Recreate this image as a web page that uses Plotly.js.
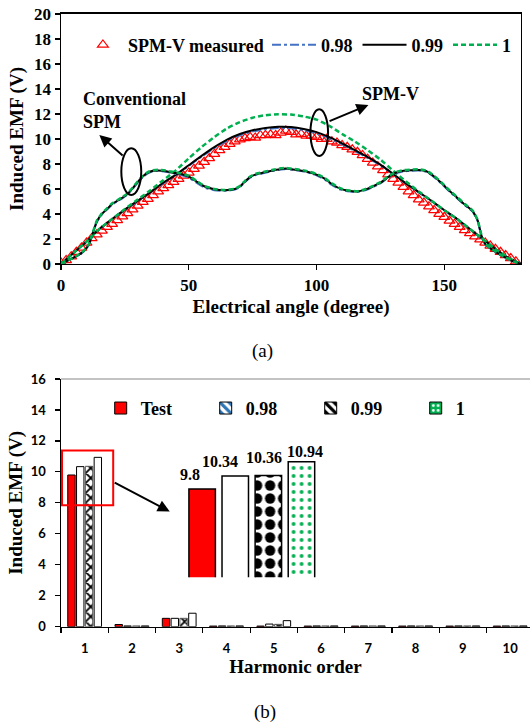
<!DOCTYPE html>
<html><head><meta charset="utf-8">
<script src="https://cdn.plot.ly/plotly-3.0.1.min.js"></script>
<style>html,body{margin:0;padding:0;background:#fff;}#chart{width:530px;height:724px;}</style>
</head><body><div id="chart"></div>
<script>
// ---------- (a) Induced EMF waveforms ----------
const angleMeasured = [0,2,4,6,8,10,12,14,16,18,20,22,24,26,28,30,32,34,36,38,40,42,44,46,48,50,52,54,56,58,60,62,64,66,68,70,72,74,76,78,80,82,84,86,88,90,92,94,96,98,100,102,104,106,108,110,112,114,116,118,120,122,124,126,128,130,132,134,136,138,140,142,144,146,148,150,152,154,156,158,160,162,164,166,168,170,172,174,176,178];
const emfMeasured = [0.1,0.3,0.6,0.95,1.3,1.7,2.05,2.35,2.65,2.95,3.2,3.5,3.8,4.05,4.35,4.65,4.95,5.2,5.5,5.8,6.05,6.3,6.55,6.8,7.05,7.3,7.6,7.85,8.15,8.45,8.8,9.1,9.35,9.6,9.8,9.95,10.05,10.15,10.1,10.3,10.3,10.35,10.3,10.5,10.65,10.55,10.35,10.4,10.25,10.25,10.15,10.0,10.0,9.8,9.7,9.5,9.35,9.15,8.95,8.7,8.4,8.1,7.8,7.5,7.15,6.8,6.5,6.15,5.8,5.5,5.15,4.9,4.6,4.3,4.0,3.75,3.45,3.2,2.95,2.7,2.45,2.2,1.95,1.7,1.45,1.2,0.95,0.7,0.45,0.2];

const angleSim = [0,5,10,15,20,25,30,35,40,45,50,55,60,65,70,75,80,85,90,95,100,105,110,115,120,125,130,135,140,145,150,155,160,165,170,175,180];
const spmv098 = [0,0.9,1.8,2.78,3.58,4.32,5.02,5.72,6.45,7.1,7.85,8.58,9.27,9.86,10.3,10.6,10.78,10.87,10.85,10.7,10.45,10.06,9.57,9.03,8.49,7.9,7.16,6.42,5.72,5.02,4.28,3.58,2.78,1.98,1.19,0.5,0];
const spmv099 = [0,0.9,1.8,2.8,3.6,4.35,5.05,5.75,6.5,7.15,7.9,8.65,9.35,9.95,10.4,10.7,10.88,10.97,10.95,10.8,10.55,10.15,9.65,9.1,8.55,7.95,7.2,6.45,5.75,5.05,4.3,3.6,2.8,2.0,1.2,0.5,0];
const spmv1   = [0,0.9,1.8,2.8,3.6,4.4,5.15,5.9,6.7,7.5,8.45,9.35,10.15,10.85,11.35,11.7,11.9,11.97,11.95,11.8,11.55,11.05,10.4,9.8,9.1,8.35,7.45,6.6,5.8,5.05,4.3,3.6,2.8,2.0,1.2,0.5,0];

const angleConv = [0,3,6,9,11,12.5,14,16,18,20,22,24,26,28,30,32,34,36,38,41,44,47,50,53,56,60,64,68,70,72,74,76,78,80,83,86,88,90,93,96,100,103,106,109,112,116,119,122,125,128,131,134,137,140,143,146,149,152,155,158,161,163,164.5,166,168,171,174,177,180];
const conv098 = [0,0.3,0.6,1.02,1.55,2.45,3.35,3.95,4.35,4.75,5.0,5.25,5.55,6.0,6.5,6.95,7.25,7.42,7.45,7.38,7.25,7.12,6.9,6.5,6.12,5.9,5.85,5.95,6.15,6.55,6.9,7.1,7.2,7.3,7.45,7.55,7.6,7.55,7.47,7.35,7.1,6.78,6.32,5.98,5.82,5.75,5.9,6.15,6.45,6.9,7.25,7.4,7.46,7.48,7.38,6.95,6.4,5.8,5.25,4.7,4.2,3.45,2.25,1.58,1.22,0.83,0.48,0.2,0];
const conv099 = [0,0.3,0.62,1.05,1.6,2.5,3.4,4.0,4.4,4.8,5.05,5.3,5.6,6.05,6.55,7.0,7.3,7.45,7.48,7.42,7.3,7.2,7.0,6.6,6.22,5.98,5.9,6.0,6.2,6.6,6.95,7.15,7.25,7.35,7.48,7.6,7.63,7.58,7.5,7.4,7.15,6.85,6.4,6.05,5.88,5.8,5.95,6.2,6.5,6.95,7.3,7.45,7.5,7.52,7.42,7.0,6.45,5.85,5.3,4.75,4.25,3.5,2.3,1.6,1.25,0.85,0.5,0.2,0];
const conv1   = [0,0.3,0.63,1.07,1.63,2.55,3.45,4.05,4.45,4.85,5.1,5.35,5.65,6.1,6.6,7.05,7.35,7.5,7.53,7.47,7.35,7.25,7.05,6.65,6.25,6.0,5.92,6.02,6.23,6.65,7.0,7.2,7.3,7.4,7.53,7.65,7.68,7.63,7.55,7.45,7.2,6.9,6.45,6.08,5.9,5.82,5.98,6.23,6.55,7.0,7.35,7.5,7.55,7.57,7.47,7.05,6.5,5.9,5.35,4.8,4.3,3.55,2.35,1.62,1.27,0.87,0.52,0.21,0];

// ---------- (b) Harmonic spectrum ----------
const harmonics = ['1','2','3','4','5','6','7','8','9','10'];
const barTest = [9.8,0.14,0.54,0.04,0.04,0.04,0.04,0.04,0.04,0.04];
const bar098  = [10.34,0.05,0.54,0.05,0.17,0.05,0.05,0.05,0.05,0.05];
const bar099  = [10.36,0.05,0.54,0.05,0.15,0.05,0.05,0.05,0.05,0.05];
const bar1    = [10.94,0.05,0.87,0.05,0.39,0.05,0.05,0.05,0.05,0.05];
const seriesNames = ['Test','0.98','0.99','1'];

const insetValues = [barTest[0], bar098[0], bar099[0], bar1[0]];
const insetLabels = insetValues.map(v => String(v));

// ---------- styling ----------
const SERIF = 'Liberation Serif, Times New Roman, serif';
const bold = (size) => ({family: SERIF, size: size, color: '#000', weight: 'bold'});
const BLUE = '#4472C4', GREEN = '#00B050', RED = '#FF0000';

const traces = [];
traces.push({x: angleMeasured, y: emfMeasured, type: 'scatter', mode: 'markers', name: 'SPM-V measured',
  marker: {symbol: 'triangle-up-open', size: 9.5, color: RED, line: {width: 1.2, color: RED}}, legend: 'legend'});
traces.push({x: angleSim, y: spmv098, type: 'scatter', mode: 'lines', name: '0.98', legend: 'legend3', line: {color: BLUE, width: 2, dash: 'dashdot', shape: 'spline', smoothing: 0.6}, legendgroup: 'a98'});
traces.push({x: angleSim, y: spmv099, type: 'scatter', mode: 'lines', name: '0.99', legend: 'legend3', line: {color: '#000', width: 2, shape: 'spline', smoothing: 0.6}, legendgroup: 'a99'});
traces.push({x: angleSim, y: spmv1, type: 'scatter', mode: 'lines', name: '1', legend: 'legend3', line: {color: GREEN, width: 2.5, dash: '5px,3px', shape: 'spline', smoothing: 0.6}, legendgroup: 'a1'});
traces.push({x: angleConv, y: conv098, type: 'scatter', mode: 'lines', name: '0.98', showlegend: false, line: {color: BLUE, width: 2, dash: 'dashdot', shape: 'spline', smoothing: 0.5}, legendgroup: 'a98'});
traces.push({x: angleConv, y: conv099, type: 'scatter', mode: 'lines', name: '0.99', showlegend: false, line: {color: '#000', width: 2, shape: 'spline', smoothing: 0.5}, legendgroup: 'a99'});
traces.push({x: angleConv, y: conv1, type: 'scatter', mode: 'lines', name: '1', showlegend: false, line: {color: GREEN, width: 2.5, dash: '5px,3px', shape: 'spline', smoothing: 0.5}, legendgroup: 'a1'});

// main bars (b)
const barSeries = [barTest, bar098, bar099, bar1];
const barMarkers = [
  {color: RED, line: {color: '#000', width: 1}},
  {color: '#fff', line: {color: '#000', width: 1}},
  {color: '#fff', line: {color: '#555', width: 1}, pattern: {shape: 'x', fgcolor: '#000', bgcolor: '#fff', size: 7, solidity: 0.45}},
  {color: '#fff', line: {color: '#000', width: 1}}
];
barSeries.forEach((vals, i) => {
  traces.push({x: harmonics, y: vals, type: 'bar', name: seriesNames[i], xaxis: 'x2', yaxis: 'y2', marker: barMarkers[i], showlegend: false});
});
// legend-only entries (hidden axes) carrying the legend swatches of the reference
const legendMarkers = [
  {color: RED, line: {color: '#000', width: 1}},
  {color: '#fff', line: {color: '#000', width: 1}, pattern: {shape: '\\', fgcolor: '#2E75B6', bgcolor: '#fff', size: 8, solidity: 0.5}},
  {color: '#fff', line: {color: '#000', width: 1}, pattern: {shape: '\\', fgcolor: '#000', bgcolor: '#fff', size: 8, solidity: 0.5}},
  {color: GREEN, line: {color: '#000', width: 1}, pattern: {shape: '.', fgcolor: '#fff', bgcolor: GREEN, size: 6, solidity: 0.25}}
];
seriesNames.forEach((nm, i) => {
  traces.push({x: [0], y: [0], type: 'bar', name: nm, xaxis: 'x4', yaxis: 'y4', marker: legendMarkers[i], legend: 'legend2', hoverinfo: 'skip'});
});
// inset (zoom of the fundamental)
traces.push({x: [0,1,2,3], y: insetValues, type: 'bar', width: 0.8, xaxis: 'x3', yaxis: 'y3', showlegend: false,
  marker: {color: [RED, '#fff', '#000', GREEN], line: {color: '#000', width: 1.5},
           pattern: {shape: ['', '', '.', '.'], fgcolor: ['#000', '#000', '#fff', '#fff'], bgcolor: [RED, '#fff', '#000', GREEN], size: [8, 8, 13, 8], solidity: [0.3, 0.3, 0.5, 0.18]}}});

const insetLabelShift = [[-12, 4], [-15, 4], [-4, 8], [4, 0]];
const annotations = [
  {xref: 'x', yref: 'y', x: 15.0, y: 10.32, ax: 24.7, ay: 8.58, axref: 'x', ayref: 'y', text: '', showarrow: true, arrowhead: 2, arrowsize: 1.2, arrowwidth: 2, arrowcolor: '#000'},
  {xref: 'x', yref: 'y', x: 120.3, y: 12.72, ax: 104.5, ay: 11.38, axref: 'x', ayref: 'y', text: '', showarrow: true, arrowhead: 2, arrowsize: 1.2, arrowwidth: 2, arrowcolor: '#000'},
  {xref: 'x', yref: 'y', x: 7.8, y: 12.26, xanchor: 'left', yanchor: 'middle', align: 'left', text: 'Conventional<br>SPM', showarrow: false, font: bold(18)},
  {xref: 'x', yref: 'y', x: 128.9, y: 13.56, xanchor: 'center', yanchor: 'middle', text: 'SPM-V', showarrow: false, font: bold(18)},
  {xref: 'x2', yref: 'y2', x: 1.80, y: 7.44, ax: 0.604, ay: 9.36, axref: 'x2', ayref: 'y2', text: '', showarrow: true, arrowhead: 2, arrowsize: 1.2, arrowwidth: 2, arrowcolor: '#000'},
  {xref: 'paper', yref: 'paper', x: 0.496, y: 0.5152, xanchor: 'center', yanchor: 'middle', text: '(a)', showarrow: false, font: {family: SERIF, size: 19, color: '#000'}},
  {xref: 'paper', yref: 'paper', x: 0.5, y: 0.0166, xanchor: 'center', yanchor: 'middle', text: '(b)', showarrow: false, font: {family: SERIF, size: 19, color: '#000'}}
];
insetLabels.forEach((t, i) => {
  annotations.push({xref: 'x3', yref: 'y3', x: i, y: insetValues[i], text: t, showarrow: false, yanchor: 'bottom', xanchor: 'center',
    xshift: insetLabelShift[i][0], yshift: insetLabelShift[i][1], font: bold(16)});
});

const axisCommon = {showgrid: false, zeroline: false, linecolor: '#000', linewidth: 1.5, ticks: 'outside', ticklen: 5, tickwidth: 1.2, tickcolor: '#000'};
const LATO = {family: 'Lato, Liberation Sans, sans-serif', size: 13, color: '#000', weight: 'bold'};

const layout = {
  width: 530, height: 724, margin: {l: 0, r: 0, t: 0, b: 0}, paper_bgcolor: '#fff', plot_bgcolor: 'rgba(0,0,0,0)',
  showlegend: true, barmode: 'group', bargap: 0.256, bargroupgap: 0.16,
  xaxis: Object.assign({}, axisCommon, {domain: [0.1151, 0.983], anchor: 'y', range: [0, 180], tickvals: [0, 50, 100, 150], mirror: true,
    tickfont: bold(17), title: {text: 'Electrical angle (degree)', font: bold(19), standoff: 6}}),
  yaxis: Object.assign({}, axisCommon, {domain: [0.6354, 0.9807], anchor: 'x', range: [0, 20], dtick: 2, mirror: true,
    tickfont: bold(17), title: {text: 'Induced EMF (V)', font: bold(19), standoff: 5}}),
  xaxis2: Object.assign({}, axisCommon, {domain: [0.1151, 1], anchor: 'y2', type: 'category', range: [-0.5, 9.42], tickson: 'boundaries',
    tickfont: LATO, ticklabelstandoff: 9, title: {text: 'Harmonic order', font: bold(19), standoff: 4}}),
  yaxis2: Object.assign({}, axisCommon, {domain: [0.1344, 0.4765], anchor: 'x2', range: [0, 16], dtick: 2,
    tickfont: LATO, ticklabelstandoff: 6, title: {text: 'Induced EMF (V)', font: bold(19), standoff: 3}}),
  xaxis3: {domain: [0.3502, 0.6], anchor: 'y3', range: [-0.5, 3.5], visible: false, fixedrange: true},
  yaxis3: {domain: [0.2026, 0.3923], anchor: 'x3', range: [6.07, 11.863], visible: false, fixedrange: true},
  xaxis4: {domain: [0, 0.01], anchor: 'y4', range: [10, 11], visible: false},
  yaxis4: {domain: [0, 0.01], anchor: 'x4', range: [10, 11], visible: false},
  legend: {orientation: 'h', x: 0.147, y: 0.9378, xanchor: 'left', yanchor: 'middle', bgcolor: 'rgba(0,0,0,0)', font: bold(18), itemwidth: 40},
  legend3: {orientation: 'h', x: 0.9736, y: 0.9378, xanchor: 'right', yanchor: 'middle', bgcolor: 'rgba(0,0,0,0)', font: bold(18), itemwidth: 44, traceorder: 'normal'},
  legend2: {orientation: 'h', x: 0.19, y: 0.436, xanchor: 'left', yanchor: 'middle', bgcolor: 'rgba(0,0,0,0)', font: bold(18), entrywidth: 60, traceorder: 'normal'},
  shapes: [
    {type: 'circle', xref: 'x', yref: 'y', x0: 23.6, x1: 31.4, y0: 5.52, y1: 9.26, line: {color: '#000', width: 2}},
    {type: 'circle', xref: 'x', yref: 'y', x0: 97.6, x1: 104.5, y0: 8.64, y1: 12.38, line: {color: '#000', width: 2}},
    {type: 'rect', xref: 'x2', yref: 'y2', x0: -0.479, x1: 0.604, y0: 7.85, y1: 11.38, line: {color: RED, width: 2}},
    {type: 'line', xref: 'x2 domain', yref: 'y2 domain', x0: 0, x1: 1, y0: 1, y1: 1, line: {color: '#888', width: 1.2}}
  ],
  annotations: annotations
};

Plotly.newPlot('chart', traces, layout, {staticPlot: true, displayModeBar: false});
</script>
</body></html>
